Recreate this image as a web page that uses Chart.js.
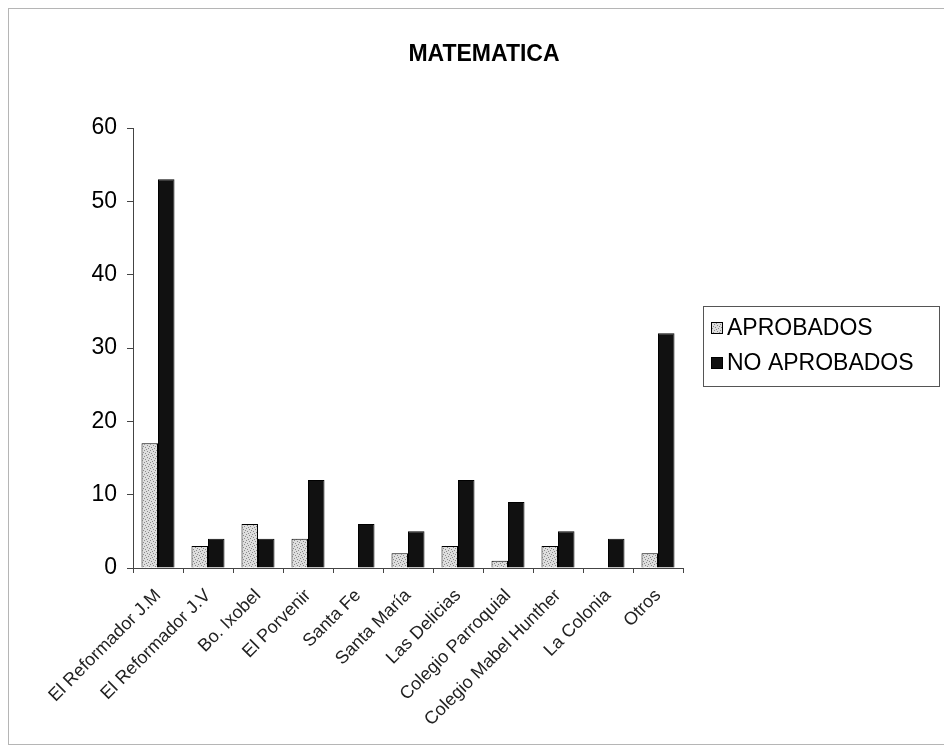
<!DOCTYPE html>
<html>
<head>
<meta charset="utf-8">
<script src="https://cdn.jsdelivr.net/npm/chart.js@4/dist/chart.umd.min.js"></script>
<style>
  html, body { margin: 0; padding: 0; background: #fff; }
  #matChart { display: block; }
</style>
</head>
<body>
<canvas id="matChart" width="944" height="747"></canvas>
<script>
const chartTitle = "MATEMATICA";
const schools = ["El Reformador J.M", "El Reformador J.V", "Bo. Ixobel", "El Porvenir", "Santa Fe",
    "Santa María", "Las Delicias", "Colegio Parroquial", "Colegio Mabel Hunther", "La Colonia", "Otros"];
const aprobados = [17, 3, 6, 4, 0, 2, 3, 1, 3, 0, 2];
const noAprobados = [53, 4, 4, 12, 6, 5, 12, 9, 5, 4, 32];
const seriesNames = ["APROBADOS", "NO APROBADOS"];
const yTicks = [0, 10, 20, 30, 40, 50, 60];

// stippled grey fill like the printed chart
function makeStipple() {
    let c = document.createElement("canvas");
    c.width = 6;
    c.height = 6;
    let g = c.getContext("2d");
    g.fillStyle = "#dedede";
    g.fillRect(0, 0, 6, 6);
    g.fillStyle = "#8a8a8a";
    [[0, 0], [3, 1], [1, 3], [4, 4], [5, 2], [2, 5]].forEach(([x, y]) => g.fillRect(x, y, 1, 1));
    return g.createPattern(c, "repeat");
}
const stipple = makeStipple();
const fills = [stipple, "#111"];

const decorPlugin = {
    id: "decor",
    beforeDraw(chart) {
        let ctx = chart.ctx;
        ctx.save();
        ctx.strokeStyle = "#b5b5b5";
        ctx.lineWidth = 1;
        ctx.strokeRect(8.5, 8.5, 1000, 736);
        ctx.restore();
    },
    afterDraw(chart) {
        let ctx = chart.ctx;
        ctx.save();
        ctx.fillStyle = "#000";
        ctx.font = "bold 23px 'Liberation Sans', Arial, sans-serif";
        ctx.textAlign = "center";
        ctx.textBaseline = "middle";
        ctx.fillText(chartTitle, 484, 55);

        // legend box
        ctx.strokeStyle = "#555";
        ctx.lineWidth = 1;
        ctx.strokeRect(703.5, 306.5, 236, 80);
        ctx.font = "23px 'Liberation Sans', Arial, sans-serif";
        ctx.textAlign = "left";
        chart.data.datasets.forEach((ds, i) => {
            let cy = 328 + i * 35;
            ctx.fillStyle = ds.backgroundColor;
            ctx.fillRect(711, cy - 6, 12, 12);
            ctx.strokeStyle = "#000";
            ctx.strokeRect(711.5, cy - 5.5, 11, 11);
            ctx.fillStyle = "#000";
            ctx.fillText(ds.label, 727, cy + 1);
        });
        ctx.restore();
    }
};

new Chart(document.getElementById("matChart").getContext("2d"), {
    type: "bar",
    data: {
        labels: schools,
        datasets: [{
            label: seriesNames[0],
            data: aprobados,
            backgroundColor: fills[0],
            borderColor: "#000",
            borderWidth: 1
        }, {
            label: seriesNames[1],
            data: noAprobados,
            backgroundColor: fills[1],
            borderColor: "#000",
            borderWidth: 1
        }]
    },
    options: {
        responsive: false,
        animation: false,
        layout: {
            padding: { left: 0, top: 128, right: 261, bottom: 9 }
        },
        datasets: {
            bar: {
                categoryPercentage: 0.66,
                barPercentage: 1
            }
        },
        plugins: {
            legend: { display: false },
            title: { display: false },
            tooltip: { enabled: false }
        },
        scales: {
            x: {
                afterFit: (s) => { s.height = 170; },
                border: { color: "#444", width: 1 },
                grid: {
                    drawOnChartArea: false,
                    drawTicks: true,
                    tickLength: 5,
                    tickColor: "#444",
                    offset: true
                },
                ticks: {
                    autoSkip: false,
                    minRotation: 45,
                    maxRotation: 45,
                    padding: 12,
                    color: "#222",
                    font: { family: "'Liberation Sans', Arial, sans-serif", size: 18 }
                }
            },
            y: {
                min: 0,
                max: 60,
                afterFit: (s) => { s.width = 133; },
                afterBuildTicks: (s) => { s.ticks = yTicks.map(v => ({ value: v })); },
                border: { color: "#444", width: 1 },
                grid: {
                    drawOnChartArea: false,
                    drawTicks: true,
                    tickLength: 6,
                    tickColor: "#444"
                },
                ticks: {
                    padding: 10,
                    color: "#000",
                    font: { family: "'Liberation Sans', Arial, sans-serif", size: 23 }
                }
            }
        }
    },
    plugins: [decorPlugin]
});
</script>
</body>
</html>
